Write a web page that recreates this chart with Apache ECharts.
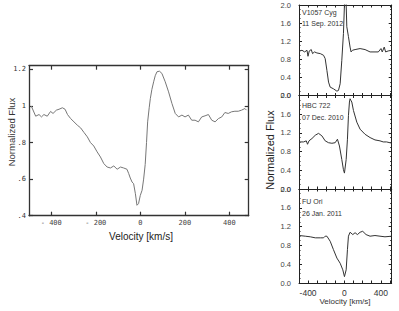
<!DOCTYPE html>
<html><head><meta charset="utf-8">
<script src="https://cdn.jsdelivr.net/npm/echarts@6/dist/echarts.min.js"></script>
<style>html,body{margin:0;padding:0;background:#fff}#c{width:399px;height:311px}</style>
</head><body><div id="c"></div>
<script>
// ---- Left chart data ----
const leftVel = [-490,-470,-455,-444,-433,-418,-403,-392,-377,-365,-350,-338,-327,-313,-298,-283,-268,-253,-238,-224,-209,-194,-179,-164,-149,-134,-119,-104,-89,-75,-60,-52,-45,-37,-30,-22,-15,-8,0,8,15,22,28,33,40,45,52,60,67,75,86,97,112,127,142,157,172,187,201,216,231,246,261,276,291,306,321,336,351,366,380,395,410,425,440,455,470,477];
const leftFlux = [1.0,0.944,0.953,0.94,0.953,0.944,0.97,0.959,0.977,0.982,0.99,0.982,0.953,0.931,0.913,0.895,0.88,0.855,0.831,0.80,0.781,0.749,0.721,0.685,0.666,0.661,0.672,0.654,0.666,0.661,0.654,0.63,0.606,0.584,0.575,0.52,0.457,0.466,0.511,0.539,0.6,0.68,0.8,0.913,0.99,1.04,1.09,1.132,1.165,1.187,1.19,1.178,1.132,1.077,1.014,0.959,0.94,0.95,0.94,0.95,0.922,0.922,0.913,0.94,0.946,0.953,0.922,0.913,0.931,0.94,0.964,0.959,0.968,0.971,0.971,0.977,0.986,0.977];
const leftXTicks = [-400,-200,0,200,400];
const leftYTicks = [0.4,0.6,0.8,1.0,1.2];

// ---- Right panels data ----
const v1057Vel = [-495,-467,-438,-412,-401,-387,-365,-351,-329,-303,-266,-230,-212,-193,-175,-157,-121,-83,-66,-47,-29,-11,0,8,15,26,44,62,73,88,117,172,227,282,336,373,402,416,438,453,482,520];
const v1057Flux = [0.98,1.0,0.963,1.0,0.867,0.985,1.015,0.926,0.963,0.94,0.926,0.889,0.815,0.556,0.296,0.185,0.148,0.096,0.111,0.26,0.778,1.37,2.0,2.5,2.3,1.52,1.3,1.07,0.963,1.0,1.015,1.037,1.015,0.963,0.963,0.963,1.037,0.963,1.07,0.963,0.985,1.0];
const hbcVel = [-495,-449,-420,-406,-390,-357,-321,-285,-248,-212,-175,-138,-102,-77,-55,-29,-11,0,19,33,44,55,62,70,81,99,136,172,227,282,336,391,427,464,520];
const hbcFlux = [1.007,1.007,1.03,0.957,1.03,1.08,1.15,1.19,1.137,1.03,0.99,0.978,0.99,1.065,0.92,0.63,0.413,0.34,0.63,1.065,1.57,1.86,1.93,1.9,1.86,1.68,1.43,1.28,1.17,1.1,1.05,1.03,1.007,1.007,0.98];
const fuoriVel = [-495,-431,-376,-321,-266,-230,-212,-193,-157,-121,-83,-47,-18,0,19,33,44,62,92,117,143,172,201,238,282,336,391,446,520];
const fuoriFlux = [1.01,0.996,0.983,0.961,0.961,0.961,0.996,0.996,0.888,0.71,0.53,0.42,0.28,0.135,0.28,0.71,0.996,1.08,1.03,1.07,1.03,1.08,1.10,1.03,0.996,1.01,0.996,0.983,0.996];
const rightXLabels = [-400,0,400];
const rightXTicks = [-500,-400,-300,-200,-100,0,100,200,300,400,500];
const panelNames = ['V1057 Cyg','HBC 722','FU Ori'];
const panelDates = ['11 Sep. 2012','07 Dec. 2010','26 Jan. 2011'];
const axisTitleY = 'Normalized Flux';
const axisTitleX = 'Velocity [km/s]';

const pairs = (a,b) => a.map((v,i)=>[v,b[i]]);
const chart = echarts.init(document.getElementById('c'), null, {renderer:'svg'});

const grids = [
  {left:29, top:65.7, width:219.7, height:150},
  {left:299, top:5, width:92.7, height:90.5},
  {left:299, top:95.5, width:92.7, height:93.5},
  {left:299, top:189, width:92.7, height:94}
];

const xAxes = [], yAxes = [];
const lAxLine = {show:true, onZero:false, lineStyle:{color:'#333', width:1.3}};
['bottom','top'].forEach((pos,k)=>{
  xAxes.push({type:'value', gridIndex:0, position:pos, min:-500, max:487,
    axisLine:lAxLine, splitLine:{show:false},
    axisTick:{show:true, inside:true, length:4, customValues:leftXTicks, lineStyle:{color:'#333', width:1.2}},
    axisLabel:{show:k===0, customValues:leftXTicks, margin:4, fontFamily:'DejaVu Sans Mono', fontSize:7, color:'#444',
      formatter:v=> v<0 ? '- '+Math.abs(v) : String(v)}});
});
['left','right'].forEach((pos,k)=>{
  yAxes.push({type:'value', gridIndex:0, position:pos, min:0.4, max:1.22,
    axisLine:lAxLine, splitLine:{show:false},
    axisTick:{show:true, inside:true, length:4, customValues:leftYTicks, lineStyle:{color:'#333', width:1.2}},
    axisLabel:{show:k===0, customValues:leftYTicks, margin:3, fontFamily:'DejaVu Sans Mono', fontSize:7, color:'#333',
      formatter:v=> String(Math.round(v*10)/10).replace(/^0/,'')}});
});
const rAxLine = {show:true, onZero:false, lineStyle:{color:'#222', width:1}};
for (let g=1; g<=3; g++){
  ['bottom','top'].forEach((pos,k)=>{
    xAxes.push({type:'value', gridIndex:g, position:pos, min:-500, max:520,
      axisLine:rAxLine, splitLine:{show:false},
      axisTick:{show:true, inside:true, length:2.5, customValues:rightXTicks, lineStyle:{color:'#222'}},
      axisLabel:{show:(g===3 && k===0), customValues:rightXLabels, margin:5, fontFamily:'Liberation Sans', fontSize:8.5, color:'#333'}});
  });
  ['left','right'].forEach((pos,k)=>{
    yAxes.push({type:'value', gridIndex:g, position:pos, min:0, max:2, interval:0.4,
      axisLine:rAxLine, splitLine:{show:false},
      axisTick:{show:true, inside:true, length:3, lineStyle:{color:'#222'}},
      minorTick:{show:true, splitNumber:4, length:1.5, lineStyle:{color:'#222'}},
      axisLabel:{show:k===0, margin:8, fontFamily:'Liberation Sans', fontSize:7.5, color:'#444',
        showMinLabel:true, showMaxLabel:true, formatter:v=>v.toFixed(1)}});
  });
}

const lineCommon = {type:'line', showSymbol:false, symbol:'none', clip:true, animation:false};
const series = [
  Object.assign({}, lineCommon, {xAxisIndex:0, yAxisIndex:0, data:pairs(leftVel,leftFlux), lineStyle:{color:'#777', width:1}}),
  Object.assign({}, lineCommon, {xAxisIndex:2, yAxisIndex:2, data:pairs(v1057Vel,v1057Flux), lineStyle:{color:'#333', width:1}}),
  Object.assign({}, lineCommon, {xAxisIndex:4, yAxisIndex:4, data:pairs(hbcVel,hbcFlux), lineStyle:{color:'#333', width:1}}),
  Object.assign({}, lineCommon, {xAxisIndex:6, yAxisIndex:6, data:pairs(fuoriVel,fuoriFlux), lineStyle:{color:'#333', width:1}})
];

const txt = (x,y,text,opt) => Object.assign({type:'text', x:x, y:y, style:Object.assign({text:text, fill:'#333', fontFamily:'Liberation Sans', fontSize:7, textAlign:'left', textVerticalAlign:'middle'}, opt||{})});
const graphic = [
  Object.assign(txt(11,132,axisTitleY,{fontSize:9.5, textAlign:'center', fill:'#333'}),{rotation:Math.PI/2}),
  txt(141,236,axisTitleX,{fontSize:10, textAlign:'center', fill:'#222'}),
  Object.assign(txt(270,150,axisTitleY,{fontSize:11, textAlign:'center', fill:'#222'}),{rotation:Math.PI/2}),
  txt(345,301,axisTitleX,{fontSize:8, textAlign:'center', fill:'#333'}),
  txt(302,12,panelNames[0]), txt(302,23.5,panelDates[0]),
  txt(302,105,panelNames[1]), txt(302,117,panelDates[1]),
  txt(302,201,panelNames[2]), txt(302,213,panelDates[2])
];

chart.setOption({animation:false, backgroundColor:'#fff', grid:grids, xAxis:xAxes, yAxis:yAxes, series:series, graphic:graphic});
</script></body></html>
